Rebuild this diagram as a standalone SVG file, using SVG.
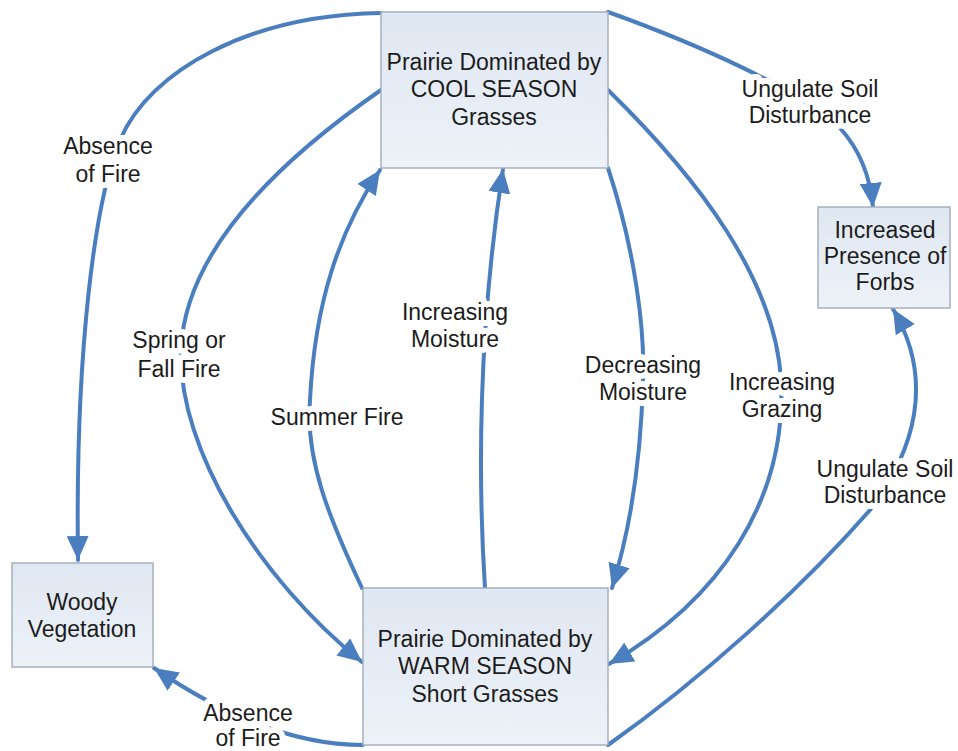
<svg xmlns="http://www.w3.org/2000/svg" width="958" height="751" viewBox="0 0 958 751">
<defs>
<linearGradient id="boxfill" x1="0" y1="0" x2="0" y2="1">
<stop offset="0" stop-color="#dfe7f2"/>
<stop offset="1" stop-color="#edf2f8"/>
</linearGradient>
<marker id="arr" markerUnits="userSpaceOnUse" markerWidth="26" markerHeight="22" refX="24" refY="11" orient="auto">
<path d="M0,0 L24,11 L0,22 z" fill="#4a7ebf"/>
</marker>
</defs>
<style>
.box{fill:url(#boxfill);stroke:#a7b0bf;stroke-width:1.5}
.t{font-family:"Liberation Sans",Arial,sans-serif;font-size:23px;fill:#1c1c1c;text-anchor:middle}
.lbl{paint-order:stroke;stroke:#ffffff;stroke-width:12px;stroke-linejoin:round}
.c{fill:none;stroke:#4a7ebf;stroke-width:4;stroke-linecap:round}
.ca{marker-end:url(#arr)}
</style>
<rect width="958" height="751" fill="#ffffff"/>
<g id="connectors">
<path class="c ca" d="M381,13 C250,15 150,70 120,140 C95,200 75,350 78,560"/>
<path class="c ca" d="M381,90 C280,160 185,250 181,350 C178,450 260,580 362,662"/>
<path class="c ca" d="M362,588 C330,520 305,460 310,400 C315,300 340,230 380,170"/>
<path class="c ca" d="M485,588 C478,480 478,330 503,169"/>
<path class="c ca" d="M608,168 C635,250 645,330 643,380 C641,460 630,530 612,588"/>
<path class="c ca" d="M608,90 C700,180 775,280 781,380 C787,500 720,600 609,664"/>
<path class="c ca" d="M608,12 C700,45 800,90 840,128 C860,150 870,175 873,207"/>
<path class="c ca" d="M608,745 C700,680 800,590 870,510 C915,450 935,380 893,309"/>
<path class="c ca" d="M363,745 C300,745 230,720 154,668"/>
</g>
<g id="labels">
<text class="t lbl" x="108" y="154">Absence</text>
<text class="t lbl" x="108" y="182">of Fire</text>
<text class="t lbl" x="810" y="97">Ungulate Soil</text>
<text class="t lbl" x="810" y="123">Disturbance</text>
<text class="t lbl" x="179" y="348">Spring or</text>
<text class="t lbl" x="179" y="377">Fall Fire</text>
<text class="t lbl" x="337" y="425">Summer Fire</text>
<text class="t lbl" x="455" y="320">Increasing</text>
<text class="t lbl" x="455" y="347">Moisture</text>
<text class="t lbl" x="643" y="373">Decreasing</text>
<text class="t lbl" x="643" y="400">Moisture</text>
<text class="t lbl" x="782" y="390">Increasing</text>
<text class="t lbl" x="782" y="417">Grazing</text>
<text class="t lbl" x="885" y="477">Ungulate Soil</text>
<text class="t lbl" x="885" y="503">Disturbance</text>
<text class="t lbl" x="248" y="721">Absence</text>
<text class="t lbl" x="248" y="746">of Fire</text>
</g>
<g id="cool">
<rect class="box" x="381" y="12" width="227" height="156"/>
<text class="t" x="494" y="70">Prairie Dominated by</text>
<text class="t" x="494" y="97">COOL SEASON</text>
<text class="t" x="494" y="125">Grasses</text>
</g>
<g id="forbs">
<rect class="box" x="818" y="207" width="132" height="101"/>
<text class="t" x="885" y="238">Increased</text>
<text class="t" x="885" y="264">Presence of</text>
<text class="t" x="885" y="290">Forbs</text>
</g>
<g id="woody">
<rect class="box" x="12" y="563" width="141" height="104"/>
<text class="t" x="82" y="610">Woody</text>
<text class="t" x="82" y="637">Vegetation</text>
</g>
<g id="warm">
<rect class="box" x="363" y="588" width="245" height="157"/>
<text class="t" x="485" y="647">Prairie Dominated by</text>
<text class="t" x="485" y="674">WARM SEASON</text>
<text class="t" x="485" y="702">Short Grasses</text>
</g>
</svg>
